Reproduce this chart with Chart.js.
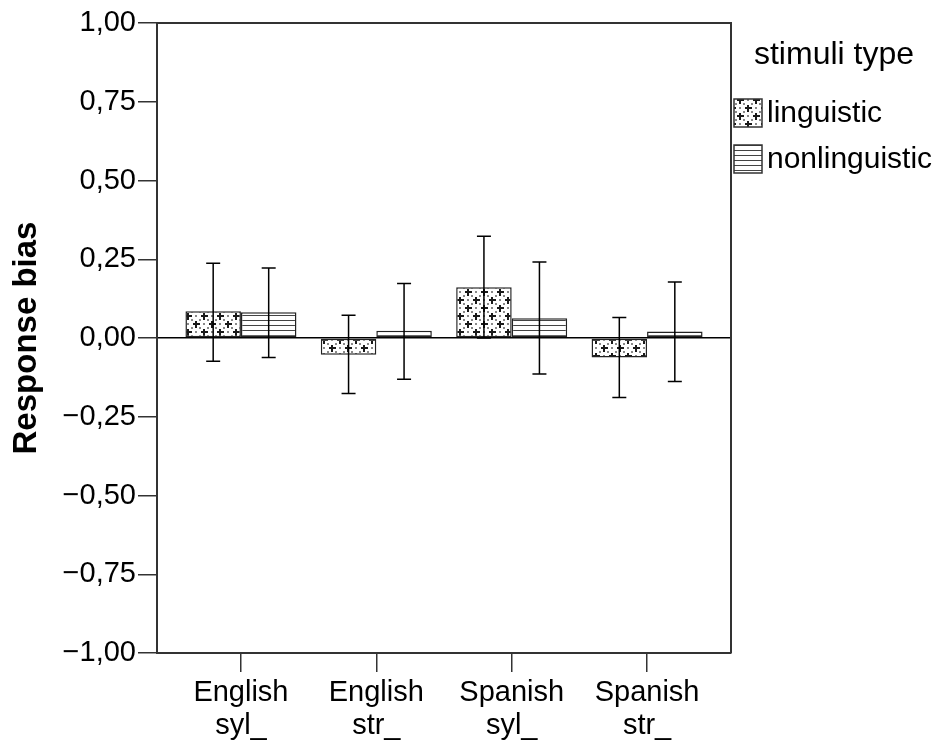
<!DOCTYPE html>
<html lang="en">
<head>
    <meta charset="UTF-8">
    <title>Response bias</title>
    <style>
        body { margin: 0; background: #fff; }
    </style>
</head>
<body>
    <script src="https://cdn.jsdelivr.net/npm/chart.js@4.4.1/dist/chart.umd.min.js"></script>
    <canvas id="sesgo" width="937" height="742"></canvas>
    <script>
        var categories = [['English', 'syl_'], ['English', 'str_'], ['Spanish', 'syl_'], ['Spanish', 'str_']];
        var seriesNames = ['linguistic', 'nonlinguistic'];
        var linguistic = [0.085, -0.053, 0.161, -0.062];
        var nonlinguistic = [0.082, 0.023, 0.063, 0.021];
        // error bar ends (lower / upper)
        var lingLow = [-0.074, -0.176, 0.0, -0.189];
        var lingHigh = [0.237, 0.072, 0.323, 0.065];
        var nonLow = [-0.062, -0.131, -0.114, -0.138];
        var nonHigh = [0.222, 0.173, 0.241, 0.178];
        var yTicks = [-1, -0.75, -0.5, -0.25, 0, 0.25, 0.5, 0.75, 1];

        var fuente = 'Liberation Sans, Arial, sans-serif';
        var ejeColor = '#333';

        // relleno de cruces para "linguistic"
        function patronCruces() {
            var c = document.createElement('canvas');
            c.width = 16; c.height = 16;
            var g = c.getContext('2d');
            g.fillStyle = '#fff';
            g.fillRect(0, 0, 16, 16);
            g.fillStyle = '#8a8a8a';
            [[12, 4], [4, 12], [0, 0], [8, 8], [8, 0], [0, 8], [16, 16], [16, 0], [0, 16], [16, 8], [8, 16]].forEach(function (p) {
                g.fillRect(p[0] - 1, p[1] - 1, 2, 2);
            });
            g.fillStyle = '#1a1a1a';
            [[4, 4], [12, 12]].forEach(function (p) {
                g.fillRect(p[0] - 3, p[1] - 1, 7, 2);
                g.fillRect(p[0] - 1, p[1] - 3, 2, 7);
            });
            return g.createPattern(c, 'repeat');
        }

        // rayas horizontales para "nonlinguistic"
        function patronRayas() {
            var c = document.createElement('canvas');
            c.width = 8; c.height = 5;
            var g = c.getContext('2d');
            g.fillStyle = '#fff';
            g.fillRect(0, 0, 8, 5);
            g.fillStyle = '#444';
            g.fillRect(0, 0, 8, 1);
            return g.createPattern(c, 'repeat');
        }

        var errores = {
            id: 'errores',
            afterDatasetsDraw: function (chart) {
                var ctx = chart.ctx;
                var y = chart.scales.y;
                var pares = [[0, lingLow, lingHigh], [1, nonLow, nonHigh]];
                ctx.save();
                ctx.strokeStyle = '#000';
                ctx.lineWidth = 1.5;
                pares.forEach(function (p) {
                    chart.getDatasetMeta(p[0]).data.forEach(function (bar, i) {
                        var y1 = y.getPixelForValue(p[1][i]);
                        var y2 = y.getPixelForValue(p[2][i]);
                        ctx.beginPath();
                        ctx.moveTo(bar.x, y1); ctx.lineTo(bar.x, y2);
                        ctx.moveTo(bar.x - 7, y1); ctx.lineTo(bar.x + 7, y1);
                        ctx.moveTo(bar.x - 7, y2); ctx.lineTo(bar.x + 7, y2);
                        ctx.stroke();
                    });
                });
                ctx.restore();
            }
        };

        // marco superior y derecho + leyenda
        var marco = {
            id: 'marco',
            afterDraw: function (chart) {
                var ctx = chart.ctx;
                var a = chart.chartArea;
                ctx.save();
                ctx.strokeStyle = ejeColor;
                ctx.lineWidth = 2;
                ctx.beginPath();
                ctx.moveTo(a.left, a.top); ctx.lineTo(a.right, a.top); ctx.lineTo(a.right, a.bottom);
                ctx.stroke();

                var x0 = a.right + 3;
                ctx.fillStyle = '#000';
                ctx.textBaseline = 'middle';
                ctx.textAlign = 'center';
                ctx.font = '32px ' + fuente;
                ctx.fillText('stimuli type', x0 + 100, 55);
                ctx.textAlign = 'left';
                ctx.font = '30px ' + fuente;
                chart.data.datasets.forEach(function (ds, i) {
                    var top = 99 + i * 46;
                    ctx.fillStyle = ds.backgroundColor;
                    ctx.fillRect(x0, top, 28, 28);
                    ctx.strokeStyle = '#333';
                    ctx.lineWidth = 1.5;
                    ctx.strokeRect(x0, top, 28, 28);
                    ctx.fillStyle = '#000';
                    ctx.fillText(ds.label, x0 + 33, top + 15);
                });
                ctx.restore();
            }
        };

        var data = {
            datasets: [{
                label: seriesNames[0],
                data: linguistic.map(function (v, i) { return { x: i, y: v }; }),
                backgroundColor: null,
                borderColor: '#222',
                borderWidth: 1.5,
                borderSkipped: false
            }, {
                label: seriesNames[1],
                data: nonlinguistic.map(function (v, i) { return { x: i, y: v }; }),
                backgroundColor: null,
                borderColor: '#222',
                borderWidth: 1.5,
                borderSkipped: false
            }]
        };

        var options = {
            responsive: false,
            animation: false,
            layout: { padding: { left: 0, top: 23, right: 206, bottom: 0 } },
            datasets: { bar: { categoryPercentage: 0.82, barPercentage: 1 } },
            scales: {
                x: {
                    type: 'linear',
                    min: -0.62,
                    max: 3.62,
                    offset: false,
                    afterFit: function (scale) { scale.height = 89; },
                    afterBuildTicks: function (scale) {
                        scale.ticks = categories.map(function (c, i) { return { value: i }; });
                    },
                    grid: {
                        offset: false,
                        drawOnChartArea: false,
                        tickLength: 19,
                        tickColor: ejeColor,
                        lineWidth: 1.5
                    },
                    border: { color: ejeColor, width: 2 },
                    ticks: {
                        autoSkip: false,
                        maxRotation: 0,
                        padding: 4,
                        color: '#000',
                        font: { family: fuente, size: 29, lineHeight: 1.14 },
                        callback: function (value) { return categories[value]; }
                    }
                },
                y: {
                    min: -1,
                    max: 1,
                    afterFit: function (scale) { scale.width = 157; },
                    afterBuildTicks: function (scale) {
                        scale.ticks = yTicks.map(function (v) { return { value: v }; });
                    },
                    grid: {
                        color: function (c) { return c.tick && c.tick.value === 0 ? '#000' : 'transparent'; },
                        tickColor: ejeColor,
                        tickLength: 19,
                        lineWidth: 1.5
                    },
                    border: { color: ejeColor, width: 2 },
                    title: {
                        display: true,
                        text: 'Response bias',
                        color: '#000',
                        font: { family: fuente, size: 33, weight: 'bold' },
                        padding: { top: 7, bottom: 0 }
                    },
                    ticks: {
                        padding: 2,
                        color: '#000',
                        font: { family: fuente, size: 29 },
                        callback: function (value) {
                            return value.toFixed(2).replace('.', ',').replace('-', '\u2212');
                        }
                    }
                }
            },
            plugins: {
                legend: { display: false },
                tooltip: { enabled: false }
            }
        };

        window.onload = function () {
            var ctx = document.getElementById('sesgo').getContext('2d');
            data.datasets[0].backgroundColor = patronCruces();
            data.datasets[1].backgroundColor = patronRayas();
            window.grafico = new Chart(ctx, {
                type: 'bar',
                data: data,
                options: options,
                plugins: [errores, marco]
            });
        };
    </script>
</body>
</html>
